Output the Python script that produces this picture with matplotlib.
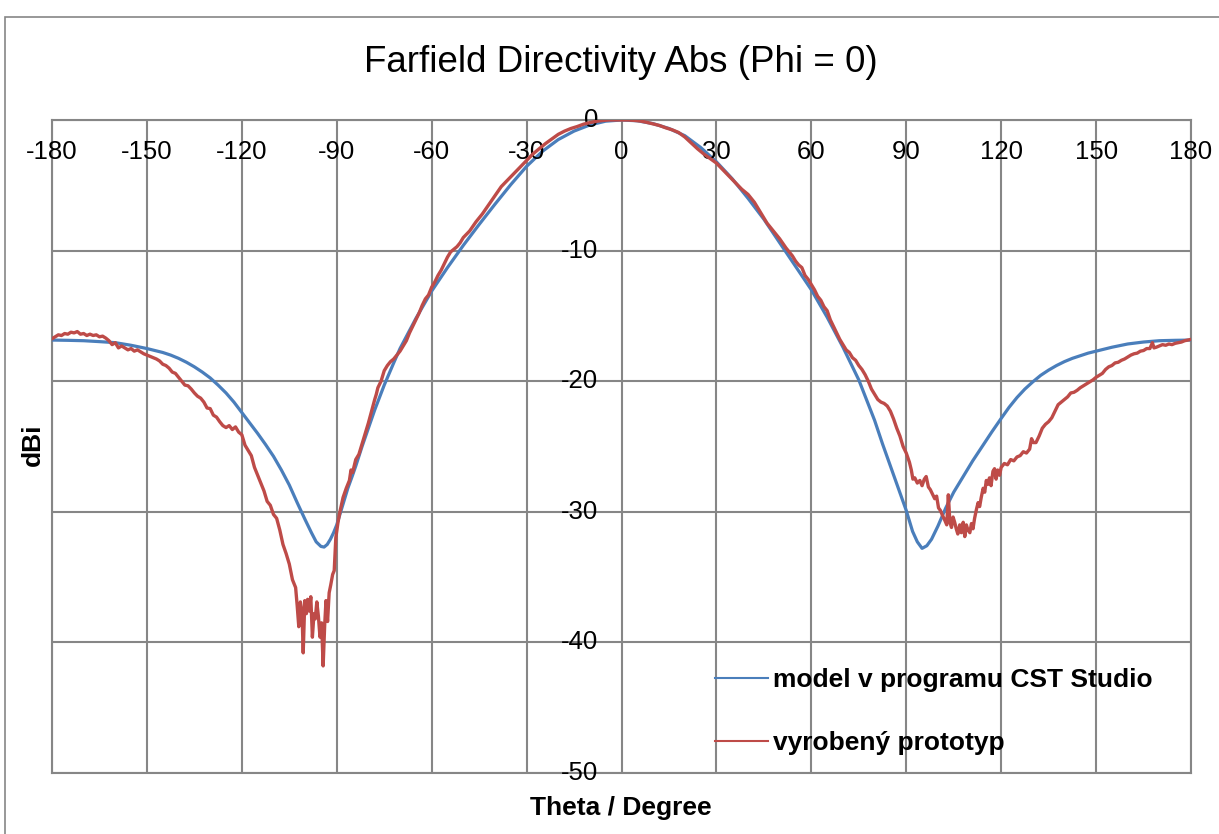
import matplotlib
matplotlib.use('Agg')
import matplotlib.pyplot as plt
from matplotlib.lines import Line2D
from matplotlib.patches import Rectangle
import matplotlib.transforms as mtransforms

plt.rcParams['font.family'] = ['Liberation Sans', 'DejaVu Sans']

# ---------------- data ----------------
title = "Farfield Directivity Abs (Phi = 0)"
x_label = "Theta / Degree"
y_label = "dBi"
series_names = ["model v programu CST Studio", "vyrobený prototyp"]

x_ticks = [-180, -150, -120, -90, -60, -30, 0, 30, 60, 90, 120, 150, 180]
y_ticks = [0, -10, -20, -30, -40, -50]

cst_theta = [-180, -175, -170, -165, -160, -155, -150, -147.5, -145, -142.5, -140, -137.5,
             -135, -132.5, -130, -127.5, -125, -122.5, -120, -117.5, -115, -112.5, -110,
             -107.5, -105, -102.5, -100, -98, -96.5, -95, -94, -93, -92, -91, -90,
             -89, -88, -86.5, -85, -84, -82, -80, -78, -75, -72, -70, -65, -60,
             -55, -50, -45, -40, -35, -30, -25, -20, -15, -10, -5, 0, 5, 10, 15,
             20, 25, 30, 35, 40, 45, 50, 55, 60, 65, 70, 75, 80, 82.5, 85, 87.5,
             90, 92, 93.5, 95, 96.5, 98, 100, 102.5, 105, 108, 111, 114, 117, 120,
             122.5, 125, 127.5, 130, 132.5, 135, 137.5, 140, 142.5, 145, 147.5, 150,
             155, 160, 165, 170, 175, 180]
cst_db = [-16.85, -16.87, -16.9, -16.97, -17.05, -17.25, -17.5, -17.65, -17.8, -18.0, -18.25, -18.55,
          -18.9, -19.3, -19.75, -20.3, -20.9, -21.6, -22.4, -23.2, -24.0, -24.85, -25.75,
          -26.8, -27.95, -29.3, -30.6, -31.6, -32.3, -32.65, -32.7, -32.5, -32.1, -31.6, -31.0,
          -30.2, -29.4, -28.2, -27.2, -26.5, -25.0, -23.6, -22.2, -20.3, -18.6, -17.5, -15.2, -13.1,
          -11.3, -9.6, -8.0, -6.45, -4.95, -3.55, -2.4, -1.5, -0.85, -0.38, -0.09, 0.0, -0.06, -0.28, -0.65,
          -1.2, -2.1, -3.2, -4.5, -6.0, -7.6, -9.4, -11.2, -13.0, -15.1, -17.4, -19.9, -23.0, -24.8, -26.5, -28.2,
          -29.9, -31.5, -32.3, -32.8, -32.6, -32.1, -31.1, -29.7, -28.5, -27.3, -26.1, -25.0, -23.9, -22.85,
          -22.0, -21.25, -20.6, -20.05, -19.55, -19.15, -18.8, -18.5, -18.25, -18.05, -17.85, -17.7,
          -17.4, -17.15, -17.0, -16.9, -16.87, -16.85]

proto_theta = [
    -180, -179, -178, -177, -176, -175, -174, -173, -172, -171, -170, -169, -168, -167, -166,
    -165, -164, -163, -162, -161, -160, -159, -158, -157, -156, -155, -154, -153, -152, -151,
    -150, -149, -148, -147, -146, -145, -144, -143, -142, -141, -140, -139, -138, -137, -136,
    -135, -134, -133, -132, -131, -130, -129, -128, -127, -126, -125, -124, -123, -122, -121,
    -120, -119, -118, -117, -116, -115, -114, -113, -112, -111, -110, -109, -108, -107, -106,
    -105, -104, -103, -102.5, -102, -101.5, -101, -100.6, -100.1, -99.6, -99.2, -98.7, -98.2,
    -97.7, -97.2, -96.8, -96.3, -95.8, -95.3, -94.8, -94.3, -93.8, -93.4, -92.9, -92.4, -91.9,
    -91.3, -90.8, -90.3, -89.6, -89, -88, -87, -86, -85.5, -85, -84, -83, -82, -81, -80, -79,
    -78, -77.5, -77, -76, -75, -74, -73, -72, -71, -70, -69, -68, -67, -66, -65, -64, -63, -62,
    -61, -60, -59, -58, -57, -56, -55, -54, -53, -52, -51, -50, -48, -46, -44, -42, -40, -38,
    -36, -34, -32, -30, -28, -26, -24, -22, -20, -18, -16, -14, -12, -10, -8, -6, -4, -2, 0,
    2, 4, 6, 8, 10, 12, 14, 16, 18, 20, 22, 24, 26, 28, 30, 32, 34, 36, 38, 40, 42, 44, 46, 48,
    50, 52, 54, 55, 56, 57, 58, 59, 60, 61, 62, 63, 64, 65, 66, 67, 68, 69, 70, 71, 72, 73, 74,
    75, 76, 77, 78, 79, 80, 81, 82, 83, 84, 85, 86, 87, 88, 89, 90, 91, 91.6, 92.1, 92.7, 93.5,
    94.3, 95.0, 95.7, 96.3, 97.0, 97.6, 98.2, 99.0, 99.6, 100.2, 100.8, 101.5, 102.1, 102.8,
    103.3, 103.8, 104.3, 104.8, 105.3, 105.8, 106.3, 106.9, 107.4, 108.0, 108.5, 109.0, 109.5,
    110.1, 110.6, 111.1, 111.6, 112.2, 112.7, 113.2, 113.7, 114.3, 114.8, 115.3, 115.8, 116.3,
    116.8, 117.4, 117.9, 118.4, 118.9, 119.5, 120, 121, 122, 123, 124, 125, 126, 127, 128, 129,
    129.6, 130.2, 131, 132, 133, 134, 135, 136, 137, 138, 139, 140, 141, 142, 143, 144, 145,
    146, 147, 148, 149, 150, 151, 152, 153, 154, 155, 156, 157, 158, 159, 160, 161, 162, 163,
    164, 165, 166, 167, 167.8, 168.3, 169, 170, 171, 172, 173, 174, 175, 176, 177, 178, 179, 180]
proto_db = [
    -16.75, -16.6, -16.45, -16.5, -16.35, -16.4, -16.25, -16.3, -16.2, -16.4, -16.35, -16.5, -16.4, -16.5, -16.45,
    -16.6, -16.55, -16.7, -16.9, -17.2, -17.05, -17.45, -17.3, -17.45, -17.6, -17.5, -17.7, -17.6, -17.75, -17.9,
    -18.0, -18.1, -18.2, -18.3, -18.45, -18.7, -18.8, -19.0, -19.3, -19.4, -19.7, -20.0, -20.3, -20.35, -20.6,
    -20.9, -21.15, -21.3, -21.6, -22.05, -22.1, -22.6, -22.75, -23.1, -23.4, -23.55, -23.4, -23.7, -23.5, -23.9,
    -24.1, -24.9, -25.3, -25.7, -26.6, -27.2, -27.8, -28.4, -29.2, -29.5, -30.2, -30.5, -31.4, -32.5, -33.2,
    -34.0, -35.2, -35.8, -37.2, -38.8, -36.9, -37.6, -40.8, -36.8, -37.8, -36.7, -37.6, -36.5,
    -39.6, -37.8, -38.2, -36.9, -38.0, -39.6, -38.5, -41.8, -38.6, -36.8, -38.4, -36.2, -35.6,
    -34.8, -34.5, -32.0, -30.8, -30.0, -28.9, -28.2, -27.6, -26.8, -27.0, -26.0, -25.6, -24.8, -24.0, -23.2, -22.3,
    -21.4, -21.0, -20.5, -20.0, -19.2, -18.8, -18.5, -18.3, -18.0, -17.7, -17.3, -16.9, -16.3, -15.8, -15.3, -14.8, -14.2, -13.7,
    -13.4, -12.8, -12.4, -11.9, -11.5, -11.0, -10.5, -10.1, -9.9, -9.7, -9.4, -9.0, -8.5, -7.8, -7.2, -6.5, -5.8, -5.1,
    -4.6, -4.1, -3.6, -3.1, -2.6, -2.2, -1.8, -1.45, -1.1, -0.85, -0.65, -0.5, -0.32, -0.2, -0.1, -0.04, 0.0, 0.0, 0.0,
    0.0, -0.03, -0.08, -0.18, -0.3, -0.42, -0.6, -0.75, -0.95, -1.3, -1.75, -2.2, -2.6, -2.95, -3.3, -3.8, -4.3, -4.8, -5.3, -5.7, -6.3, -7.1, -7.9, -8.5,
    -9.1, -9.8, -10.4, -10.8, -11.1, -11.3, -11.9, -12.2, -12.6, -13.0, -13.5, -13.8, -14.3, -14.6, -15.3, -15.8, -16.3, -16.8, -17.2, -17.6, -17.8, -18.2, -18.4,
    -18.8, -19.1, -19.5, -20.0, -20.6, -21.0, -21.4, -21.6, -21.7, -21.9, -22.3, -22.9, -23.6, -24.2, -25.0, -25.5, -26.2, -26.8, -27.5, -27.4, -27.8,
    -27.6, -28.0, -27.5, -27.3, -28.1, -28.3, -28.6, -29.0, -28.8, -29.7, -29.9, -30.3, -30.6, -31.0,
    -28.7, -30.8, -31.2, -30.4, -30.8, -31.3, -31.7, -31.0, -31.6, -30.8, -31.9, -31.0, -31.4,
    -31.6, -30.9, -31.3, -30.5, -29.8, -29.3, -29.6, -28.9, -28.2, -28.5, -27.6, -27.9, -27.4,
    -28.0, -26.9, -26.7, -27.5, -26.8, -27.2, -26.6, -26.3, -26.4, -26.0, -26.1, -25.8, -25.7, -25.4, -25.5, -25.2,
    -24.4, -24.7, -24.7, -24.2, -23.6, -23.3, -23.1, -22.8, -22.3, -21.8, -21.6, -21.4, -21.2, -20.9, -20.85, -20.7, -20.5,
    -20.35, -20.2, -20.05, -19.9, -19.7, -19.55, -19.4, -19.1, -18.9, -18.8, -18.6, -18.55, -18.4, -18.3, -18.15, -18.0, -17.9, -17.85,
    -17.7, -17.65, -17.5, -17.5, -17.05, -17.45, -17.4, -17.3, -17.2, -17.25, -17.15, -17.2, -17.1, -17.05, -17.0, -16.9, -16.85, -16.8]

# ---------------- styling ----------------
BLUE = '#4A7EBB'
RED = '#BE4B48'
GRID = '#868686'

W, H = 1219, 834
fig = plt.figure(figsize=(W / 100, H / 100), dpi=100)
ax = fig.add_axes([52 / W, 1 - 773 / H, (1191 - 52) / W, (773 - 120) / H])

ax.set_xlim(-180, 180)
ax.set_ylim(-50, 0)
ax.set_xticks(x_ticks)
ax.set_yticks(y_ticks)
ax.grid(True, color=GRID, lw=1.5, zorder=0)
ax.set_axisbelow(True)
ax.tick_params(length=0, labelbottom=False, labelleft=False)
for s in ax.spines.values():
    s.set_color(GRID)
    s.set_linewidth(1.5)

ax.plot(cst_theta, cst_db, color=BLUE, lw=2.3, zorder=3, solid_joinstyle='round')
ax.plot(proto_theta, proto_db, color=RED, lw=2.4, zorder=4, solid_joinstyle='round')

# tick labels (x labels hang below the 0 dB axis line, y labels left of theta = 0)
xt = mtransforms.offset_copy(ax.transData, fig=fig, x=0, y=-32, units='dots')
for v in x_ticks:
    ax.text(v, 0, str(v), transform=xt, ha='center', va='center', fontsize=18.5, clip_on=False)
yt = mtransforms.offset_copy(ax.transData, fig=fig, x=-23, y=0, units='dots')
for v in y_ticks:
    ax.text(0, v, str(v), transform=yt, ha='right', va='center', fontsize=18.5, clip_on=False)

fig.text(621 / W, 1 - 63 / H, title, ha='center', va='center', fontsize=26.5)
fig.text(621 / W, 1 - 808 / H, x_label, ha='center', va='center', fontsize=19, fontweight='bold')
fig.text(33 / W, 1 - 445 / H, y_label, ha='center', va='center', rotation=90, fontsize=19, fontweight='bold')

handles = [Line2D([], [], color=BLUE, lw=1.5), Line2D([], [], color=RED, lw=1.5)]
ax.legend(handles, series_names, loc='upper left', bbox_to_anchor=(715 / W, 1 - 668 / H),
          bbox_transform=fig.transFigure, frameon=False, borderpad=0, borderaxespad=0,
          handlelength=2.0, handletextpad=0.2, labelspacing=1.47,
          prop={'weight': 'bold', 'size': 19})

fig.patches.append(Rectangle((4.5 / W, -0.1), 1.2, (H - 16.5) / H + 0.1, transform=fig.transFigure,
                             fill=False, ec=GRID, lw=1.2))

fig.savefig('out.png', dpi=100)
